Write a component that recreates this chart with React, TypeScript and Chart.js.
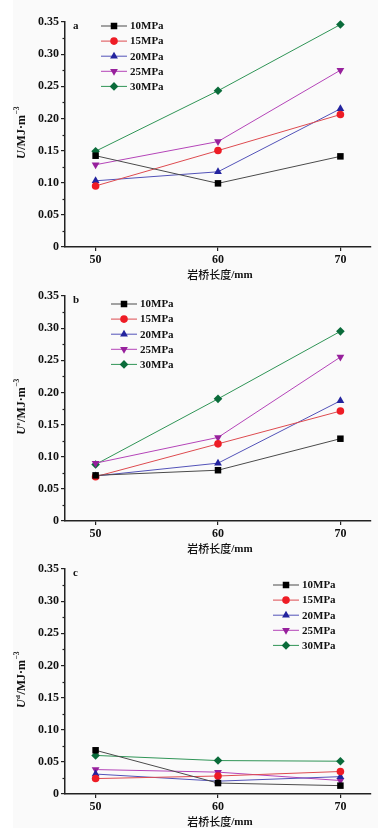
import React, { useEffect, useRef } from 'react';
import { Chart, registerables } from 'chart.js';

Chart.register(...registerables);

// ---------- data ----------
const bridgeLengths = [50, 60, 70];
const pressureNames = ['10MPa', '15MPa', '20MPa', '25MPa', '30MPa'];
const yTickValues = [0, 0.05, 0.1, 0.15, 0.2, 0.25, 0.3, 0.35];
const yMinorValues = [0.025, 0.075, 0.125, 0.175, 0.225, 0.275, 0.325];

// panel a: total energy U
const totalU = [
  [0.142, 0.099, 0.141],
  [0.095, 0.150, 0.206],
  [0.103, 0.117, 0.215],
  [0.128, 0.164, 0.275],
  [0.149, 0.243, 0.346],
];
// panel b: elastic energy Ue
const elasticU = [
  [0.071, 0.079, 0.128],
  [0.069, 0.120, 0.171],
  [0.070, 0.090, 0.187],
  [0.090, 0.130, 0.255],
  [0.088, 0.190, 0.295],
];
// panel c: dissipated energy Ud
const dissipatedU = [
  [0.068, 0.017, 0.013],
  [0.024, 0.028, 0.035],
  [0.031, 0.020, 0.027],
  [0.038, 0.034, 0.021],
  [0.060, 0.052, 0.051],
];

const panelLetters = ['a', 'b', 'c'];
const yTitleSups = ['', 'e', 'd'];
const xTitleCjk = '岩桥长度';
const xTitleUnit = '/mm';

// ---------- styles ----------
const markerColors = ['#000000', '#ee1c25', '#23239e', '#97209c', '#0a6b3a'];
const lineColors = ['#4a4a4a', '#dd4a4f', '#5252b8', '#b444b8', '#2f9456'];
const markerStyles = ['rect', 'circle', 'triangle', 'triangle', 'rectRot'];
const markerRotations = [0, 0, 0, 180, 0];
const markerRadii = [4.6, 3.8, 4.5, 4.5, 4.3];

const SERIF = '"Liberation Serif", "Times New Roman", serif';
const CJK = '"Noto Sans CJK SC", "Liberation Serif", sans-serif';
const AXIS = '#222222';

const CANVAS_W = 390;
const CANVAS_H = 283;
const panelTops = [0, 274, 547];
const legendOffsets = [
  { dx: 36, dy: 4 },
  { dx: 46, dy: 8 },
  { dx: 208, dy: 16 },
];

function drawMarker(ctx: CanvasRenderingContext2D, style: string, rotationDeg: number, x: number, y: number, r: number, color: string) {
  ctx.save();
  ctx.fillStyle = color;
  ctx.beginPath();
  let rad = (rotationDeg * Math.PI) / 180;
  if (style === 'rect') {
    const s = Math.SQRT1_2 * r;
    ctx.rect(x - s, y - s, 2 * s, 2 * s);
  } else if (style === 'circle') {
    ctx.arc(x, y, r, 0, Math.PI * 2);
  } else if (style === 'triangle') {
    ctx.moveTo(x + Math.sin(rad) * r, y - Math.cos(rad) * r);
    rad += (2 * Math.PI) / 3;
    ctx.lineTo(x + Math.sin(rad) * r, y - Math.cos(rad) * r);
    rad += (2 * Math.PI) / 3;
    ctx.lineTo(x + Math.sin(rad) * r, y - Math.cos(rad) * r);
    ctx.closePath();
  } else {
    ctx.moveTo(x - r, y);
    ctx.lineTo(x, y - r);
    ctx.lineTo(x + r, y);
    ctx.lineTo(x, y + r);
    ctx.closePath();
  }
  ctx.fill();
  ctx.restore();
}

const decorPlugin = {
  id: 'decor',
  afterDraw(chart: any, _args: any, opts: any) {
    const ctx: CanvasRenderingContext2D = chart.ctx;
    const area = chart.chartArea;
    const yScale = chart.scales.y;
    ctx.save();

    // minor ticks on y axis
    ctx.strokeStyle = AXIS;
    ctx.lineWidth = 1.2;
    yMinorValues.forEach((v) => {
      const py = Math.round(yScale.getPixelForValue(v)) + 0.5;
      ctx.beginPath();
      ctx.moveTo(area.left - 2.5, py);
      ctx.lineTo(area.left, py);
      ctx.stroke();
    });

    // panel letter
    ctx.fillStyle = '#111';
    ctx.font = `bold 11px ${SERIF}`;
    ctx.textAlign = 'left';
    ctx.textBaseline = 'middle';
    ctx.fillText(opts.letter, area.left + 8, area.top + 4);

    // legend
    const lx = area.left + opts.legend.dx;
    const ly = area.top + opts.legend.dy;
    chart.data.datasets.forEach((ds: any, i: number) => {
      const y = ly + i * 15.1;
      ctx.strokeStyle = lineColors[i];
      ctx.lineWidth = 1;
      ctx.beginPath();
      ctx.moveTo(lx, y);
      ctx.lineTo(lx + 26, y);
      ctx.stroke();
      drawMarker(ctx, markerStyles[i], markerRotations[i], lx + 13, y, markerRadii[i], markerColors[i]);
      ctx.fillStyle = '#111';
      ctx.font = `bold 11px ${SERIF}`;
      ctx.textAlign = 'left';
      ctx.textBaseline = 'middle';
      ctx.fillText(ds.label, lx + 29, y + 0.5);
    });

    // x title (CJK part + unit)
    ctx.fillStyle = '#111';
    ctx.textBaseline = 'middle';
    ctx.textAlign = 'left';
    ctx.font = `500 11px ${CJK}`;
    const wCjk = ctx.measureText(xTitleCjk).width;
    ctx.font = `bold 11px ${SERIF}`;
    const wUnit = ctx.measureText(xTitleUnit).width;
    const startX = (area.left + area.right) / 2 + 2 - (wCjk + wUnit) / 2;
    const ty = area.bottom + 28;
    ctx.font = `500 11px ${CJK}`;
    ctx.fillText(xTitleCjk, startX, ty);
    ctx.font = `bold 11px ${SERIF}`;
    ctx.fillText(xTitleUnit, startX + wCjk, ty + 0.5);

    // y title (rotated, italic U with superscripts)
    const midY = (area.top + area.bottom) / 2 - 2;
    ctx.translate(22, midY);
    ctx.rotate(-Math.PI / 2);
    const parts = [
      { t: 'U', f: `italic bold 12px ${SERIF}`, dy: 0 },
      { t: opts.sup, f: `bold 7px ${SERIF}`, dy: -4 },
      { t: '/MJ·m', f: `bold 12px ${SERIF}`, dy: 0 },
      { t: '−3', f: `bold 7.5px ${SERIF}`, dy: -4.5 },
    ];
    let total = 0;
    const widths = parts.map((p) => {
      ctx.font = p.f;
      const w = p.t ? ctx.measureText(p.t).width + 0.5 : 0;
      total += w;
      return w;
    });
    let cx = -total / 2;
    ctx.textAlign = 'left';
    ctx.textBaseline = 'middle';
    parts.forEach((p, i) => {
      if (!p.t) return;
      ctx.font = p.f;
      ctx.fillText(p.t, cx, p.dy);
      cx += widths[i];
    });
    ctx.restore();
  },
};

function Panel({ index, values }: { index: number; values: number[][] }) {
  const ref = useRef<HTMLCanvasElement | null>(null);
  useEffect(() => {
    if (!ref.current) return;
    const chart = new Chart(ref.current, {
      type: 'line',
      data: {
        datasets: pressureNames.map((name, i) => ({
          label: name,
          data: bridgeLengths.map((x, j) => ({ x, y: values[i][j] })),
          borderColor: lineColors[i],
          backgroundColor: markerColors[i],
          borderWidth: 1,
          pointBackgroundColor: markerColors[i],
          pointBorderColor: markerColors[i],
          pointBorderWidth: 0,
          pointStyle: markerStyles[i] as any,
          rotation: markerRotations[i],
          pointRadius: markerRadii[i],
          pointHoverRadius: markerRadii[i],
          tension: 0,
          fill: false,
          clip: false as any,
        })),
      },
      options: {
        responsive: false,
        animation: false,
        devicePixelRatio: 1,
        layout: { padding: { top: 22, right: 19, left: 0, bottom: 0 } },
        plugins: {
          legend: { display: false },
          tooltip: { enabled: false },
          decor: {
            letter: panelLetters[index],
            sup: yTitleSups[index],
            legend: legendOffsets[index],
          },
        } as any,
        scales: {
          x: {
            type: 'linear',
            min: 47.5,
            max: 72.5,
            afterBuildTicks: (scale: any) => {
              scale.ticks = bridgeLengths.map((v) => ({ value: v }));
            },
            afterFit: (scale: any) => {
              scale.height = 36;
            },
            grid: {
              display: true,
              drawOnChartArea: false,
              drawTicks: true,
              tickLength: 4,
              color: AXIS,
              lineWidth: 1.2,
            },
            border: { display: true, color: AXIS, width: 1.5 },
            ticks: {
              color: '#111',
              padding: 2,
              maxRotation: 0,
              font: { family: SERIF, size: 12, weight: 'bold' },
              callback: (v: any) => String(v),
            },
          },
          y: {
            type: 'linear',
            min: 0,
            max: 0.35,
            afterBuildTicks: (scale: any) => {
              scale.ticks = yTickValues.map((v) => ({ value: v }));
            },
            afterFit: (scale: any) => {
              scale.width = 65;
            },
            grid: {
              display: true,
              drawOnChartArea: false,
              drawTicks: true,
              tickLength: 4,
              color: AXIS,
              lineWidth: 1.2,
            },
            border: { display: true, color: AXIS, width: 1.5 },
            ticks: {
              color: '#111',
              padding: 2,
              font: { family: SERIF, size: 12, weight: 'bold' },
              callback: (v: any) => (Number(v) === 0 ? '0' : Number(v).toFixed(2)),
            },
          },
        },
      },
      plugins: [decorPlugin],
    } as any);
    return () => chart.destroy();
  }, [index, values]);
  return (
    <canvas
      ref={ref}
      width={CANVAS_W}
      height={CANVAS_H}
      style={{
        position: 'absolute',
        left: 0,
        top: panelTops[index],
        width: CANVAS_W,
        height: CANVAS_H,
      }}
    />
  );
}

export default function App() {
  useEffect(() => {
    document.body.style.margin = '0';
    document.body.style.background = '#ffffff';
  }, []);
  return (
    <div style={{ position: 'relative', width: 390, height: 833, background: '#ffffff', overflow: 'hidden' }}>
      <div
        style={{
          position: 'absolute',
          left: 13,
          top: 0,
          width: 365,
          height: 828,
          background: '#fafafa',
        }}
      />
      <Panel index={0} values={totalU} />
      <Panel index={1} values={elasticU} />
      <Panel index={2} values={dissipatedU} />
    </div>
  );
}
